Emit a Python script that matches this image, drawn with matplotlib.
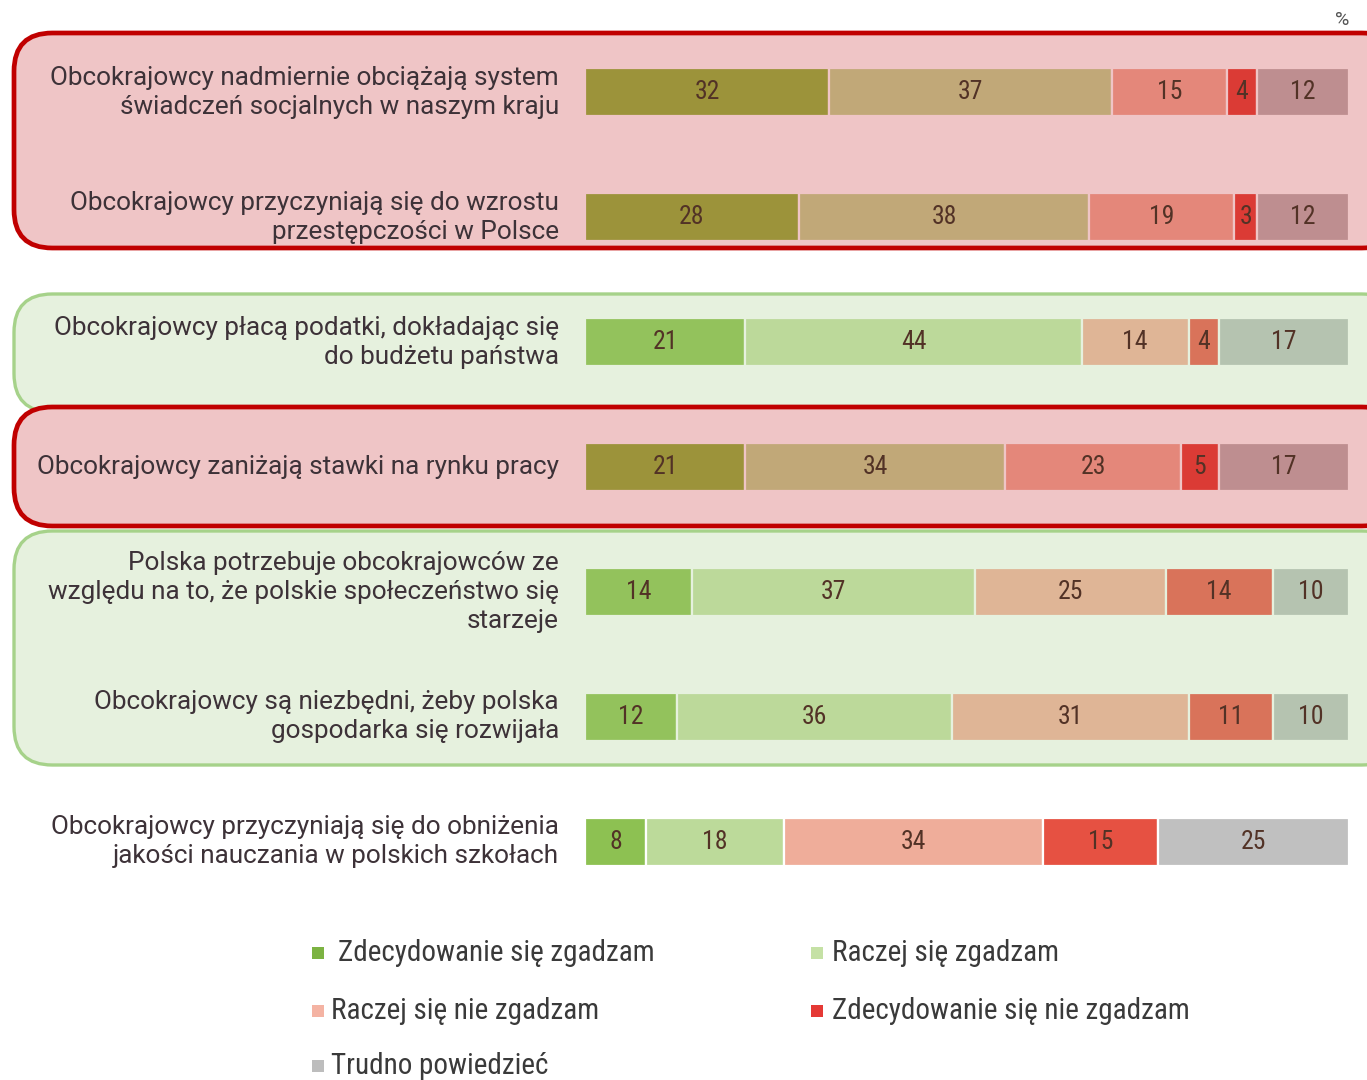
import matplotlib
matplotlib.use("Agg")
import matplotlib.pyplot as plt
import matplotlib.transforms as mtransforms
from matplotlib.patches import FancyBboxPatch, Rectangle
from matplotlib import font_manager

# ---------------- data ----------------
statements = [
    "Obcokrajowcy nadmiernie obciążają system\nświadczeń socjalnych w naszym kraju",
    "Obcokrajowcy przyczyniają się do wzrostu\nprzestępczości w Polsce",
    "Obcokrajowcy płacą podatki, dokładając się\ndo budżetu państwa",
    "Obcokrajowcy zaniżają stawki na rynku pracy",
    "Polska potrzebuje obcokrajowców ze\nwzględu na to, że polskie społeczeństwo się\nstarzeje",
    "Obcokrajowcy są niezbędni, żeby polska\ngospodarka się rozwijała",
    "Obcokrajowcy przyczyniają się do obniżenia\njakości nauczania w polskich szkołach",
]
categories = ["Zdecydowanie się zgadzam", "Raczej się zgadzam",
              "Raczej się nie zgadzam", "Zdecydowanie się nie zgadzam",
              "Trudno powiedzieć"]
strongly_agree = [32, 28, 21, 21, 14, 12, 8]
rather_agree = [37, 38, 44, 34, 37, 36, 18]
rather_disagree = [15, 19, 14, 23, 25, 31, 34]
strongly_disagree = [4, 3, 4, 5, 14, 11, 15]
hard_to_say = [12, 12, 17, 17, 10, 10, 25]
series = [strongly_agree, rather_agree, rather_disagree, strongly_disagree, hard_to_say]

# ---------------- styles ----------------
RED_PAL = ["#9C933A", "#C1A878", "#E4877A", "#DB3B35", "#BE8E90"]
GREEN_PAL = ["#93C25C", "#BCD99A", "#DFB596", "#D9735A", "#B5C3B0"]
BASE_PAL = ["#8DC152", "#BCDA9A", "#EFAD9A", "#E65142", "#C0C0C0"]
LEGEND_PAL = ["#7CB342", "#C5E1A5", "#F4B3A3", "#E53935", "#BDBDBD"]
RED_FILL, RED_EDGE = "#EFC5C6", "#C00000"
GREEN_FILL, GREEN_EDGE = "#E6F1DE", "#A6D28A"
row_pal = [RED_PAL, RED_PAL, GREEN_PAL, RED_PAL, GREEN_PAL, GREEN_PAL, BASE_PAL]
row_bg = [RED_FILL, RED_FILL, GREEN_FILL, RED_FILL, GREEN_FILL, GREEN_FILL, "white"]

avail = {f.name for f in font_manager.fontManager.ttflist}
def pick(*names):
    for n in names:
        if n in avail:
            return n
    return "DejaVu Sans"
LABEL_FONT = pick("Roboto", "Open Sans", "DejaVu Sans")
NUM_FONT = pick("Roboto Condensed", "Liberation Sans Narrow", "Roboto")

W, H = 1367, 1080
fig = plt.figure(figsize=(W / 100, H / 100), dpi=100)
fig.patch.set_facecolor("white")

def fx(px):
    return px / W
def fy(py):
    return 1 - py / H

# ---------------- background boxes ----------------
def box(x0, y0, x1, y1, fill, edge, lw):
    p = FancyBboxPatch((fx(x0), fy(y1)), fx(x1) - fx(x0), fy(y0) - fy(y1),
                       boxstyle="round,pad=0,rounding_size=0.028",
                       transform=fig.transFigure, facecolor=fill,
                       edgecolor=edge, linewidth=lw, zorder=-5,
                       mutation_aspect=W / H)
    fig.patches.append(p)

box(14, 33, 1400, 248, RED_FILL, RED_EDGE, 3.4)
box(14, 294, 1400, 412, GREEN_FILL, GREEN_EDGE, 2.4)
box(14, 407, 1400, 526, RED_FILL, RED_EDGE, 3.4)
box(14, 531, 1400, 765, GREEN_FILL, GREEN_EDGE, 2.4)

# ---------------- bars ----------------
ax = fig.add_axes([fx(585), fy(904), fx(1349) - fx(585), fy(30) - fy(904)])
ax.set_zorder(5)
ax.patch.set_visible(False)
ax.set_xlim(0, 100)
ax.set_ylim(len(statements) - 0.5, -0.5)
ax.axis("off")

label_tr = mtransforms.blended_transform_factory(fig.transFigure, ax.transData)
for i in range(len(statements)):
    left = 0
    for k, s in enumerate(series):
        v = s[i]
        ax.barh(i, v, left=left, height=0.385, color=row_pal[i][k],
                edgecolor=row_bg[i], linewidth=1.6, zorder=2)
        ax.text(left + v / 2, i, str(v), ha="center", va="center",
                fontsize=18.5, family=NUM_FONT, fontweight="normal",
                color="#523226", zorder=3)
        left += v
    ax.text(fx(559), i, statements[i], transform=label_tr, clip_on=False,
            ha="right", va="center", multialignment="right", fontsize=18.8,
            family=LABEL_FONT, color="#3d3238", linespacing=1.25)

fig.text(fx(1342), fy(20), "%", ha="center", va="center", fontsize=14,
         color="#555555", family=LABEL_FONT)

# ---------------- legend ----------------
leg_pos = [(318, 953), (817, 953), (318, 1011), (817, 1011), (318, 1066)]
leg_text_x = [338, 832, 331, 832, 331]
for k, (name, (lx, ly)) in enumerate(zip(categories, leg_pos)):
    fig.patches.append(Rectangle((fx(lx - 6), fy(ly + 6)), 12 / W, 12 / H,
                                 transform=fig.transFigure,
                                 facecolor=LEGEND_PAL[k], edgecolor="none"))
    fig.text(fx(leg_text_x[k]), fy(ly), name, ha="left", va="center",
             fontsize=21, family=NUM_FONT, color="#3a3a3a")

fig.savefig("out.png", dpi=100)
